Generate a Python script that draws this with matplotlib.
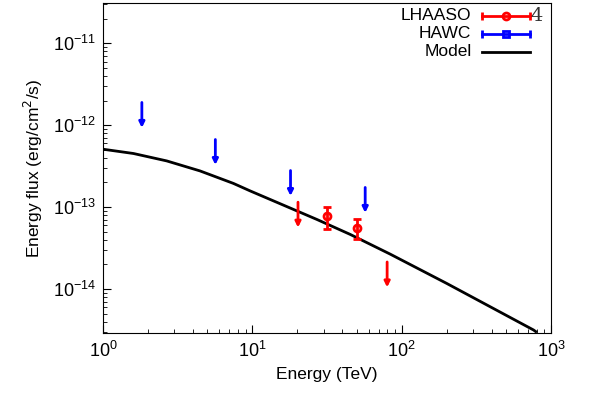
import numpy as np
import matplotlib.pyplot as plt

plt.rcParams['font.family'] = ['Liberation Sans', 'DejaVu Sans']

# HAWC upper limits (TeV, erg/cm^2/s)
hawc_e = [1.82, 5.65, 18.0, 56.9]
hawc_ul = [1.9e-12, 6.7e-13, 2.8e-13, 1.74e-13]

# LHAASO points with errors
lhaaso_e = [31.8, 50.5]
lhaaso_f = [7.7e-14, 5.5e-14]
lhaaso_lo = [5.35e-14, 4.1e-14]
lhaaso_hi = [1.0e-13, 7.1e-14]

# LHAASO upper limits
lhaaso_ul_e = [20.2, 79.8]
lhaaso_ul = [1.15e-13, 2.14e-14]

# model curve
model_e = [1.0, 1.60, 2.67, 4.46, 7.46, 9.65, 16.1, 27.0, 45.1, 83.6, 200.0,
           762.0, 803.0]
model_f = [5.1e-13, 4.52e-13, 3.67e-13, 2.77e-13, 1.95e-13, 1.58e-13, 1.06e-13,
           7.08e-14, 4.65e-14, 2.67e-14, 1.17e-14, 3.16e-15, 2.95e-15]

x_ticks = [1, 10, 100, 1000]
y_ticks = [1e-14, 1e-13, 1e-12, 1e-11]

arrow_len = 10 ** 0.31

fig = plt.figure(figsize=(5.92, 3.96), dpi=100)
ax = fig.add_axes([0.174, 0.159, 0.757, 0.833])

ax.plot(model_e, model_f, color='black', lw=2, solid_capstyle='butt')

for e, f in zip(hawc_e, hawc_ul):
    ax.annotate('', xy=(e, f / arrow_len), xytext=(e, f),
                arrowprops=dict(arrowstyle='-|>', color='blue', lw=2,
                                mutation_scale=8, shrinkA=0, shrinkB=0))
for e, f in zip(lhaaso_ul_e, lhaaso_ul):
    ax.annotate('', xy=(e, f / arrow_len), xytext=(e, f),
                arrowprops=dict(arrowstyle='-|>', color='red', lw=2,
                                mutation_scale=8, shrinkA=0, shrinkB=0))

yerr = [np.array(lhaaso_f) - np.array(lhaaso_lo),
        np.array(lhaaso_hi) - np.array(lhaaso_f)]
ax.errorbar(lhaaso_e, lhaaso_f, yerr=yerr, fmt='o', color='red', mfc='none',
            mew=2, ms=5, elinewidth=2, capsize=3, capthick=2)

ax.set_xscale('log')
ax.set_yscale('log')
ax.set_xticks(x_ticks)
ax.set_yticks(y_ticks)
ax.set_xlim(1, 1000)
ax.set_ylim(2.9e-15, 3.1e-11)
ax.tick_params(which='both', direction='in', labelsize=13, top=False, right=False)
ax.tick_params(which='major', length=6)
ax.tick_params(axis='y', which='major', pad=5)
ax.tick_params(axis='x', which='major', pad=6)
ax.tick_params(which='minor', length=3)
ax.set_xlabel('Energy (TeV)', fontsize=12.5, labelpad=4)
ax.set_ylabel('Energy flux (erg/cm$^2$/s)', fontsize=12.5, labelpad=6)

# gnuplot-style key, drawn in axes coordinates
tr = ax.transAxes
rows = [0.962, 0.907, 0.853]
x0, x1 = 0.846, 0.953
ax.text(0.822, rows[0], 'LHAASO', transform=tr, ha='right', va='center', fontsize=12.5)
ax.plot([x0, x1], [rows[0]] * 2, color='red', lw=2, transform=tr)
ax.plot([x0, x1], [rows[0]] * 2, color='red', lw=0, marker='|', ms=6, mew=2, transform=tr)
ax.plot([(x0 + x1) / 2], [rows[0]], color='red', marker='o', ms=5, mfc='none', mew=2, transform=tr)
ax.text(0.953, rows[0], '4', transform=tr, ha='left', va='center', fontsize=14,
        family='DejaVu Serif', color='#333333')
ax.text(0.822, rows[1], 'HAWC', transform=tr, ha='right', va='center', fontsize=12.5)
ax.plot([x0, x1], [rows[1]] * 2, color='blue', lw=2, transform=tr)
ax.plot([x0, x1], [rows[1]] * 2, color='blue', lw=0, marker='|', ms=6, mew=2, transform=tr)
ax.plot([(x0 + x1) / 2], [rows[1]], color='blue', marker='s', ms=5, mfc='none', mew=2, transform=tr)
ax.text(0.822, rows[2], 'Model', transform=tr, ha='right', va='center', fontsize=12.5)
ax.plot([x0, x1], [rows[2]] * 2, color='black', lw=2, transform=tr)

fig.savefig('out.png', dpi=100)
